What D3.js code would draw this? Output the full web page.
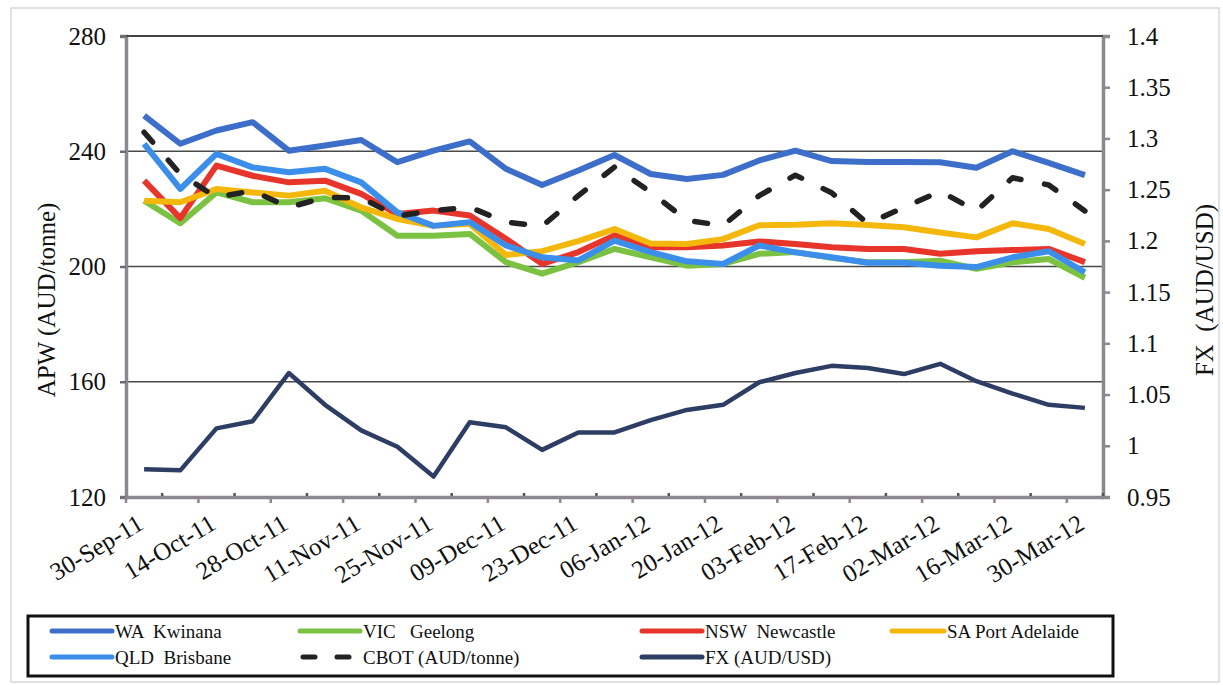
<!DOCTYPE html>
<html>
<head>
<meta charset="utf-8">
<script src="https://cdn.jsdelivr.net/npm/d3@7"></script>
<style>
  html, body { margin: 0; padding: 0; background: #fff; }
  svg { display: block; }
  svg text { white-space: pre; }
</style>
</head>
<body>
<svg id="chart" width="1223" height="685"></svg>
<script>
// Weekly dates, 30-Sep-11 .. 30-Mar-12
const dates = ["30-Sep-11","07-Oct-11","14-Oct-11","21-Oct-11","28-Oct-11","04-Nov-11","11-Nov-11",
  "18-Nov-11","25-Nov-11","02-Dec-11","09-Dec-11","16-Dec-11","23-Dec-11","30-Dec-11","06-Jan-12",
  "13-Jan-12","20-Jan-12","27-Jan-12","03-Feb-12","10-Feb-12","17-Feb-12","24-Feb-12","02-Mar-12",
  "09-Mar-12","16-Mar-12","23-Mar-12","30-Mar-12"];

// APW prices by port (AUD/tonne)
const waKwinana   = [252.4,242.6,247.2,250.1,240.2,242.0,243.9,236.2,240.2,243.4,233.9,228.3,233.3,238.7,232.1,230.4,231.8,236.8,240.2,236.6,236.3,236.3,236.2,234.3,240.0,236.0,231.7];
const vicGeelong  = [222.8,215.0,225.7,222.3,222.3,223.7,219.4,210.7,210.7,211.3,201.5,197.5,201.5,206.1,203.2,200.3,200.9,204.4,205.0,203.0,201.5,201.5,202.0,199.2,201.5,202.6,196.1];
const nswNewcastle= [229.8,216.8,235.0,231.5,229.2,229.8,225.2,218.2,219.4,217.7,209.6,200.9,205.0,210.8,206.7,206.7,207.3,208.7,207.8,206.7,206.1,206.1,204.4,205.3,205.7,206.1,201.5];
const saAdelaide  = [222.8,222.3,226.9,225.7,224.6,226.3,220.5,216.5,214.1,214.8,204.0,205.3,208.8,213.0,208.0,207.8,209.5,214.3,214.5,215.0,214.4,213.6,211.8,210.1,215.0,213.0,207.8];
const qldBrisbane = [242.6,226.9,239.1,234.4,232.7,233.9,229.2,218.8,214.1,215.4,207.3,203.2,202.1,209.0,205.0,201.8,200.9,207.3,204.9,203.2,201.3,201.3,200.3,199.8,203.2,205.3,198.0];
const cbot        = [246.6,232.1,224.0,226.3,220.5,224.0,223.8,217.5,219.4,220.6,215.4,214.0,224.6,234.5,225.8,216.0,214.2,224.6,231.7,225.6,214.9,220.5,226.1,219.3,230.8,228.3,219.3];
// Exchange rate (AUD/USD), right axis
const fxRate      = [0.977,0.976,1.017,1.024,1.071,1.040,1.015,0.999,0.970,1.023,1.018,0.996,1.013,1.013,1.025,1.035,1.040,1.062,1.071,1.078,1.076,1.070,1.080,1.063,1.051,1.040,1.037];

const leftTicks  = [120,160,200,240,280];
const rightTicks = [0.95,1,1.05,1.1,1.15,1.2,1.25,1.3,1.35,1.4];
const rightTickLabels = ["0.95","1","1.05","1.1","1.15","1.2","1.25","1.3","1.35","1.4"];
const xLabelDates = dates.filter((d, i) => i % 2 === 0);

const series = [
  { name: "WA  Kwinana",        values: waKwinana,    color: "#3d6fca", width: 6,   axis: "L" },
  { name: "VIC   Geelong",      values: vicGeelong,   color: "#7cc242", width: 6,   axis: "L" },
  { name: "NSW  Newcastle",     values: nswNewcastle, color: "#e8352b", width: 6,   axis: "L" },
  { name: "SA Port Adelaide",   values: saAdelaide,   color: "#f4b80c", width: 6,   axis: "L" },
  { name: "QLD  Brisbane",      values: qldBrisbane,  color: "#3b8fea", width: 6,   axis: "L" },
  { name: "CBOT (AUD/tonne)",   values: cbot,         color: "#222222", width: 5.5, axis: "L", dash: "13,24" },
  { name: "FX (AUD/USD)",       values: fxRate,       color: "#2e3d63", width: 4.5, axis: "R" }
];

const FONT = "Liberation Serif";
const svg = d3.select("#chart");
const plot = { left: 126, right: 1103, top: 36, bottom: 497 };
const axisGray = "#8d8791";

// outer frame
svg.append("rect").attr("x", 11).attr("y", 8).attr("width", 1208).attr("height", 674)
  .attr("fill", "none").attr("stroke", "#c4c4c4").attr("stroke-width", 1);

const x = d3.scaleBand().domain(dates).range([plot.left, plot.right]).paddingInner(0).paddingOuter(0);
const cx = d => x(d) + x.bandwidth() / 2;
const yL = d3.scaleLinear().domain([120, 280]).range([plot.bottom, plot.top]);
const yR = d3.scaleLinear().domain([0.95, 1.4]).range([plot.bottom, plot.top]);

// horizontal gridlines
svg.append("g").selectAll("line").data(leftTicks.filter(v => v > 120)).join("line")
  .attr("x1", plot.left).attr("x2", plot.right)
  .attr("y1", d => yL(d)).attr("y2", d => yL(d))
  .attr("stroke", "#4a4a4a").attr("stroke-width", 1.6);

// left axis
const gL = svg.append("g").attr("transform", `translate(${plot.left},0)`)
  .call(d3.axisLeft(yL).tickValues(leftTicks).tickSize(6).tickPadding(14).tickFormat(d3.format("d")));
gL.select(".domain").attr("stroke", axisGray).attr("stroke-width", 3.5);
gL.selectAll(".tick line").attr("stroke", "#6f6a72").attr("stroke-width", 2.5);
gL.selectAll("text").attr("font-size", 25).attr("fill", "#111").style("font-family", FONT);

// right axis
const gR = svg.append("g").attr("transform", `translate(${plot.right},0)`)
  .call(d3.axisRight(yR).tickValues(rightTicks).tickSize(7).tickPadding(17)
    .tickFormat((d, i) => rightTickLabels[i]));
gR.select(".domain").attr("stroke", axisGray).attr("stroke-width", 3.5);
gR.selectAll(".tick line").attr("stroke", axisGray).attr("stroke-width", 2.5);
gR.selectAll("text").attr("font-size", 25).attr("fill", "#111").style("font-family", FONT);

// bottom axis with rotated date labels
const gB = svg.append("g").attr("transform", `translate(0,${plot.bottom})`)
  .call(d3.axisBottom(x).tickValues(xLabelDates).tickSize(0).tickPadding(0));
gB.select(".domain").attr("stroke", axisGray).attr("stroke-width", 3.5);
gB.selectAll(".tick text")
  .attr("font-size", 25).attr("fill", "#111").style("font-family", FONT)
  .attr("text-anchor", "end").attr("y", 0).attr("dy", 0)
  .attr("transform", "translate(1,31) rotate(-31)");

// category-boundary tick marks
const boundaries = d3.range(0, dates.length + 1);
svg.append("g").selectAll("line").data(boundaries).join("line")
  .attr("x1", i => i < dates.length ? x(dates[i]) : plot.right)
  .attr("x2", i => i < dates.length ? x(dates[i]) : plot.right)
  .attr("y1", i => i % 2 === 0 ? plot.bottom : plot.bottom - 1)
  .attr("y2", i => i % 2 === 0 ? plot.bottom + 6 : plot.bottom - 4)
  .attr("stroke", i => i % 2 === 0 ? axisGray : "#555")
  .attr("stroke-width", 2.5);

// plot-area top edge
svg.append("line").attr("x1", plot.left).attr("x2", plot.right)
  .attr("y1", plot.top).attr("y2", plot.top).attr("stroke", "#333").attr("stroke-width", 1.6);

// axis titles
svg.append("text").attr("transform", "translate(55,300) rotate(-90)")
  .attr("text-anchor", "middle").attr("font-size", 25).attr("fill", "#111").style("font-family", FONT)
  .text("APW (AUD/tonne)");
svg.append("text").attr("transform", "translate(1213,290) rotate(-90)")
  .attr("text-anchor", "middle").attr("font-size", 25).attr("fill", "#111").style("font-family", FONT)
  .text("FX  (AUD/USD)");

// series lines
const lineL = d3.line().x((v, i) => cx(dates[i])).y(v => yL(v));
const lineR = d3.line().x((v, i) => cx(dates[i])).y(v => yR(v));
svg.append("g").selectAll("path").data(series).join("path")
  .attr("d", s => (s.axis === "L" ? lineL : lineR)(s.values))
  .attr("fill", "none")
  .attr("stroke", s => s.color)
  .attr("stroke-width", s => s.width)
  .attr("stroke-linejoin", "round")
  .attr("stroke-linecap", s => s.dash ? "round" : "butt")
  .attr("stroke-dasharray", s => s.dash || null);

// legend
const legend = svg.append("g");
legend.append("rect").attr("x", 28).attr("y", 616).attr("width", 1085).attr("height", 60)
  .attr("fill", "#fff").attr("stroke", "#111").attr("stroke-width", 3);
const colX = [52, 300, 642, 892];
const rowY = [631, 657];
const lineLen = [60, 60, 60, 52];
const items = legend.selectAll("g.item").data(series).join("g").attr("class", "item")
  .attr("transform", (s, i) => `translate(${colX[i % 4]},${rowY[Math.floor(i / 4)]})`);
items.append("line")
  .attr("x1", 0).attr("x2", (s, i) => lineLen[i % 4]).attr("y1", 0).attr("y2", 0)
  .attr("stroke", s => s.color)
  .attr("stroke-width", 5)
  .attr("stroke-linecap", "round")
  .attr("stroke-dasharray", s => s.dash ? "12,22" : null)
  .attr("transform", s => s.dash ? "translate(3,0)" : null);
items.append("text")
  .attr("x", (s, i) => lineLen[i % 4] + 3).attr("y", 6.5)
  .attr("font-size", 19).attr("fill", "#111").style("font-family", FONT)
  .text(s => s.name);
</script>
</body>
</html>
